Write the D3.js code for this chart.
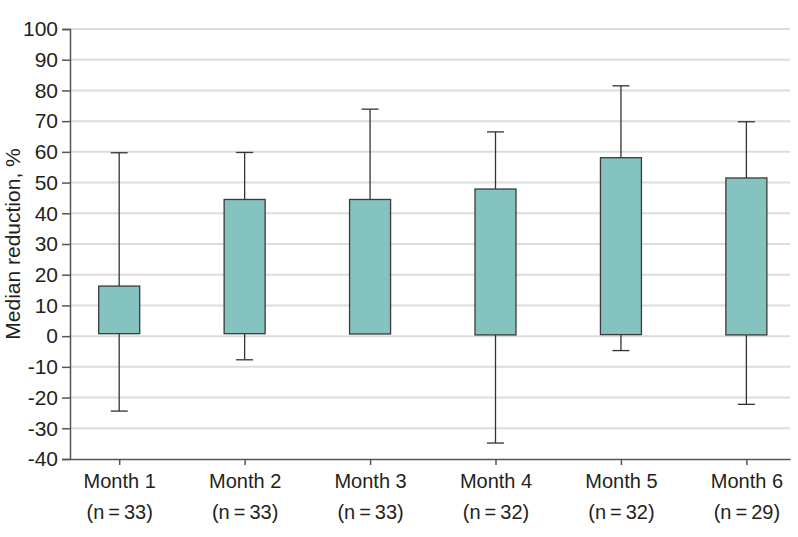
<!DOCTYPE html>
<html>
<head>
<meta charset="utf-8">
<script src="https://cdn.jsdelivr.net/npm/d3@7"></script>
<style>
  body { margin: 0; background: #fff; }
  text { font-family: "Liberation Sans Narrow", "Liberation Sans", sans-serif; fill: #231f20; }
</style>
</head>
<body>
<svg id="chart" width="798" height="537"></svg>
<script>
// data
var months = ['Month 1', 'Month 2', 'Month 3', 'Month 4', 'Month 5', 'Month 6'];
var counts = [33, 33, 33, 32, 32, 29];
var boxLow = [0.8, 0.8, 0.7, 0.4, 0.5, 0.4];
var boxHigh = [16.3, 44.5, 44.5, 47.9, 58.1, 51.5];
var whiskerHigh = [59.7, 59.8, 73.9, 66.5, 81.5, 69.8];
var whiskerLow = [-24.4, -7.7, 0.7, -34.8, -4.7, -22.2];
var yTicks = d3.range(-40, 101, 10);

var svg = d3.select('#chart');
var m = {left: 70, right: 8, top: 29, bottom: 78};
var W = 798, H = 537;

var x = d3.scalePoint()
    .domain(months)
    .range([m.left, W - m.right])
    .padding(0.37)
    .align(0.53);
var y = d3.scaleLinear()
    .domain([-40, 100])
    .range([H - m.bottom, m.top]);

var rows = months.map(function(mo, i) {
    return {month: mo, n: counts[i], lo: boxLow[i], hi: boxHigh[i], wlo: whiskerLow[i], whi: whiskerHigh[i]};
});

// gridlines
svg.append('g').selectAll('line').data(yTicks.filter(function(t) { return t > -40; }))
  .enter().append('line')
    .attr('x1', m.left).attr('x2', W - m.right)
    .attr('y1', y).attr('y2', y)
    .attr('stroke', '#dcdcdc').attr('stroke-width', 2);

// y axis
var gy = svg.append('g')
    .attr('transform', 'translate(' + m.left + ',0)')
    .call(d3.axisLeft(y).tickValues(yTicks).tickSize(8).tickPadding(4)
          .tickFormat(function(d) { return d < 0 ? '-' + Math.abs(d) : d; }));
gy.select('.domain').attr('stroke', '#555').attr('stroke-width', 1.5);
gy.selectAll('.tick line').attr('stroke', '#555').attr('stroke-width', 1.5);
gy.selectAll('.tick text').attr('font-size', 21).attr('fill', '#231f20')
    .style('font-family', '"Liberation Sans Narrow", sans-serif');

// x axis
var gx = svg.append('g')
    .attr('transform', 'translate(0,' + y(-40) + ')')
    .call(d3.axisBottom(x).tickSize(6).tickSizeOuter(0).tickFormat(''));
gx.select('.domain').attr('stroke', '#555').attr('stroke-width', 1.5);
gx.selectAll('.tick line').attr('stroke', '#555').attr('stroke-width', 1.5);
var lab = gx.selectAll('.tick').append('text')
    .attr('text-anchor', 'middle')
    .attr('font-size', 20);
lab.append('tspan').attr('x', 0).attr('y', 29).text(function(d) { return d; });
lab.append('tspan').attr('x', 0).attr('y', 60)
    .text(function(d, i) { return '(n\u2009=\u2009' + counts[i] + ')'; });

// whiskers
var bw = 41, cap = 17;
var g = svg.append('g').selectAll('g').data(rows).enter().append('g')
    .attr('transform', function(d) { return 'translate(' + x(d.month) + ',0)'; });
g.append('line')
    .attr('x1', 0).attr('x2', 0)
    .attr('y1', function(d) { return y(d.whi); })
    .attr('y2', function(d) { return y(d.wlo); })
    .attr('stroke', '#333').attr('stroke-width', 1.3);
g.selectAll('line.cap').data(function(d) { return d.wlo < d.lo ? [d.whi, d.wlo] : [d.whi]; })
  .enter().append('line').attr('class', 'cap')
    .attr('x1', -cap / 2).attr('x2', cap / 2)
    .attr('y1', y).attr('y2', y)
    .attr('stroke', '#333').attr('stroke-width', 1.3);

// boxes
g.append('rect')
    .attr('x', -bw / 2).attr('width', bw)
    .attr('y', function(d) { return y(d.hi); })
    .attr('height', function(d) { return y(d.lo) - y(d.hi); })
    .attr('fill', '#85c3c1').attr('stroke', '#3a3a3a').attr('stroke-width', 1.3);

// y label
svg.append('text')
    .attr('transform', 'translate(20,' + (y(30)) + ') rotate(-90)')
    .attr('text-anchor', 'middle')
    .attr('font-size', 21)
    .text('Median reduction, %');
</script>
</body>
</html>
